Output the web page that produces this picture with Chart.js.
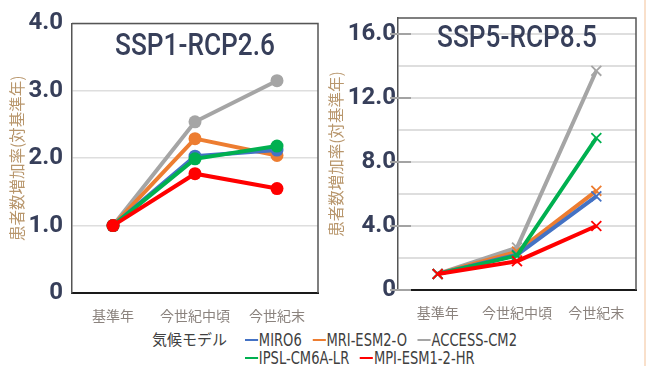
<!DOCTYPE html>
<html>
<head>
<meta charset="utf-8">
<script src="https://cdn.jsdelivr.net/npm/chart.js@4.4.1/dist/chart.umd.min.js"></script>
<style>
  html, body { margin: 0; padding: 0; background: #fff; }
  body { width: 647px; height: 366px; position: relative; overflow: hidden; }
  #c1 { position: absolute; left: 0; top: 0; }
  #c2 { position: absolute; left: 325px; top: 0; }
  #edge { position: absolute; left: 644px; top: 0; width: 2px; height: 366px; background: #f9e0cb; }
  #legendTitle { position: absolute; left: 152px; top: 330px; font: 15px "Noto Sans CJK JP", sans-serif; color: #404040; line-height: 18px; }
  #legendItems { position: absolute; left: 245px; top: 331px; width: 372px; display: flex; flex-wrap: wrap;
                 column-gap: 14px; transform: scaleX(0.77); transform-origin: left top;
                 font: 17px "DejaVu Sans", sans-serif; color: #404040; line-height: 18px; }
  .item { display: flex; align-items: center; white-space: nowrap; }
  .swatch { display: inline-block; width: 17px; height: 2.5px; margin-right: 1px; }
</style>
</head>
<body>
<canvas id="c1" width="325" height="325"></canvas>
<canvas id="c2" width="322" height="325"></canvas>
<div id="edge"></div>
<div id="legendTitle"></div>
<div id="legendItems"></div>
<script>
// Periods on the x axis
const categories = ['基準年', '今世紀中頃', '今世紀末'];

// Climate models and their colours
const modelNames  = ['MIRO6', 'MRI-ESM2-O', 'ACCESS-CM2', 'IPSL-CM6A-LR', 'MPI-ESM1-2-HR'];
const modelColors = ['#4472c4', '#ed7d31', '#a5a5a5', '#00b050', '#ff0000'];

// SSP1-RCP2.6: patient-count increase ratio vs. base year
const ssp126Miro6   = [1.0, 2.03, 2.12];
const ssp126Mri     = [1.0, 2.29, 2.04];
const ssp126Access  = [1.0, 2.54, 3.15];
const ssp126Ipsl    = [1.0, 1.99, 2.18];
const ssp126Mpi     = [1.0, 1.77, 1.55];

// SSP5-RCP8.5: patient-count increase ratio vs. base year
const ssp585Miro6   = [1.0, 2.20, 5.85];
const ssp585Mri     = [1.0, 2.40, 6.20];
const ssp585Access  = [1.0, 2.65, 13.7];
const ssp585Ipsl    = [1.0, 2.15, 9.50];
const ssp585Mpi     = [1.0, 1.80, 4.00];

// Y tick labels
const ssp126Ticks = ['0', '1.0', '2.0', '3.0', '4.0'];
const ssp585Ticks = ['0', '4.0', '8.0', '12.0', '16.0'];

const axisTitle   = '患者数増加率(対基準年)';
const legendTitle = '気候モデル';

// Draw order: red on top, then green, blue, orange, grey
const drawOrder = [3, 4, 5, 2, 1];

const navy = '#373f5a';
const tickFont = { family: 'Roboto, "DejaVu Sans", sans-serif', size: 24, weight: 'bold' };

// Frame (top/right) and inner major tick marks
const framePlugin = {
  id: 'frame',
  beforeDatasetsDraw(chart, args, opts) {
    const { ctx, chartArea: a } = chart;
    ctx.save();
    if (opts.tickEvery) {
      const ys = chart.scales.y;
      ctx.strokeStyle = opts.tickColor;
      ctx.lineWidth = 2;
      for (let v = ys.min; v <= ys.max; v += opts.tickEvery) {
        const py = Math.round(ys.getPixelForValue(v));
        ctx.beginPath();
        ctx.moveTo(a.left - 8, py);
        ctx.lineTo(a.left + opts.tickLen, py);
        ctx.stroke();
      }
    }
    ctx.strokeStyle = opts.color;
    ctx.lineWidth = opts.width;
    ctx.beginPath();
    ctx.moveTo(a.left, a.top);
    ctx.lineTo(a.right, a.top);
    ctx.lineTo(a.right, a.bottom);
    ctx.stroke();
    ctx.restore();
  }
};

// Scenario title drawn inside the plot area, condensed to a given width
const innerTitlePlugin = {
  id: 'innerTitle',
  afterDatasetsDraw(chart, args, opts) {
    const { ctx, chartArea: a } = chart;
    ctx.save();
    ctx.font = '500 32px Roboto, "DejaVu Sans", sans-serif';
    ctx.fillStyle = navy;
    ctx.textAlign = 'center';
    ctx.textBaseline = 'alphabetic';
    const w = ctx.measureText(opts.text).width;
    ctx.translate((a.left + a.right) / 2, opts.baseline);
    ctx.scale(opts.width / w, 1);
    ctx.fillText(opts.text, 0, 0);
    ctx.restore();
  }
};

function buildDatasets(series, marker) {
  return series.map((data, i) => ({
    label: modelNames[i],
    data: data,
    borderColor: modelColors[i],
    backgroundColor: modelColors[i],
    borderWidth: 4,
    tension: 0,
    order: drawOrder[i],
    pointStyle: marker,
    pointRadius: marker === 'circle' ? 6.5 : 7,
    pointBorderWidth: marker === 'circle' ? 0 : 1.8,
    pointBorderColor: modelColors[i],
    pointBackgroundColor: modelColors[i]
  }));
}

function makeChart(id, cfg) {
  return new Chart(document.getElementById(id), {
    type: 'line',
    data: { labels: categories, datasets: buildDatasets(cfg.series, cfg.marker) },
    options: {
      responsive: false,
      animation: false,
      devicePixelRatio: 1,
      layout: { padding: cfg.padding },
      plugins: {
        legend: { display: false },
        tooltip: { enabled: false },
        frame: cfg.frame,
        innerTitle: cfg.title
      },
      scales: {
        x: {
          type: 'category',
          offset: true,
          grid: { display: false, drawTicks: false },
          border: { color: '#1a1a1a', width: 2 },
          ticks: { color: '#8b837e', padding: 14, font: { family: '"Noto Sans CJK JP", sans-serif', size: 14 } },
          afterFit(s) { s.height = cfg.xHeight; }
        },
        y: {
          min: 0,
          max: cfg.max,
          grid: { color: '#dedede', lineWidth: cfg.gridWidth, drawTicks: false },
          border: { color: '#555', width: 1.5 },
          ticks: {
            stepSize: cfg.step,
            color: navy,
            padding: cfg.tickPad,
            font: tickFont,
            callback: cfg.tickLabel
          },
          title: {
            display: true,
            text: axisTitle,
            color: '#b8966c',
            font: { family: '"Noto Sans CJK JP", sans-serif', size: 15.5, lineHeight: 1 },
            padding: { top: cfg.titlePad, bottom: 0 }
          },
          afterFit(s) { s.width = cfg.yWidth; }
        }
      }
    },
    plugins: [framePlugin, innerTitlePlugin]
  });
}

makeChart('c1', {
  series: [ssp126Miro6, ssp126Mri, ssp126Access, ssp126Ipsl, ssp126Mpi],
  marker: 'circle',
  max: 4, step: 1,
  tickLabel: v => ssp126Ticks[v],
  padding: { top: 20, right: 7, bottom: 0, left: 0 },
  yWidth: 72, xHeight: 32, tickPad: 9, titlePad: 9, gridWidth: 1.5,
  frame: { color: '#555', width: 1.5 },
  title: { text: 'SSP1-RCP2.6', width: 160, baseline: 55 }
});

makeChart('c2', {
  series: [ssp585Miro6, ssp585Mri, ssp585Access, ssp585Ipsl, ssp585Mpi],
  marker: 'crossRot',
  max: 17, step: 1,
  tickLabel: v => (v % 4 === 0 ? ssp585Ticks[v / 4] : ''),
  padding: { top: 18, right: 11, bottom: 0, left: 0 },
  yWidth: 73, xHeight: 35, tickPad: 2, titlePad: 3, gridWidth: 2,
  frame: { color: '#555', width: 1.5, tickEvery: 4, tickLen: 13, tickColor: '#a3a3a3' },
  title: { text: 'SSP5-RCP8.5', width: 160, baseline: 47 }
});

// Legend built from the model list
document.getElementById('legendTitle').textContent = legendTitle;
const legendBox = document.getElementById('legendItems');
modelNames.forEach((name, i) => {
  const item = document.createElement('span');
  item.className = 'item';
  const sw = document.createElement('span');
  sw.className = 'swatch';
  sw.style.background = modelColors[i];
  const tx = document.createElement('span');
  tx.textContent = name;
  item.appendChild(sw);
  item.appendChild(tx);
  legendBox.appendChild(item);
});
</script>
</body>
</html>
